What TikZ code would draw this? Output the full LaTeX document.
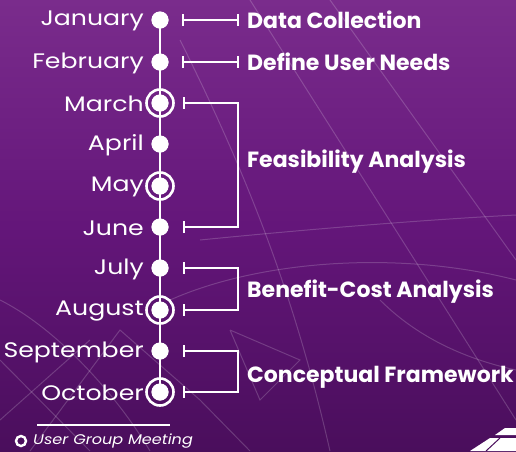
\documentclass[tikz,border=0pt]{standalone}
\usepackage{fontspec}
\setmainfont{Poppins}
\newfontfamily\monthfont[FakeStretch=1.2]{Poppins}
\newfontfamily\legfont[FakeStretch=1.15]{Poppins}
\definecolor{bgtop}{HTML}{7A2C8C}
\definecolor{bgbot}{HTML}{4A0E5C}
\definecolor{bgmid}{HTML}{64167A}
\tikzset{
  month/.style={anchor=east, text=white, font=\monthfont\fontsize{21}{22}\selectfont, inner sep=0pt},
  task/.style={anchor=west, text=white, font=\fontsize{22}{23}\selectfont\bfseries, inner sep=0pt},
  dot/.style={circle, fill=white, minimum size=17pt, inner sep=0pt},
  ring/.style={draw=white, line width=2.6pt, circle, minimum size=27pt, inner sep=0pt},
  link/.style={draw=white, line width=2.6pt},
  deco/.style={draw=white, opacity=0.18, line width=1pt},
}
\begin{document}
\begin{tikzpicture}[x=1pt,y=-1pt]
\useasboundingbox (0,0) rectangle (516,451);
\shade[top color=bgtop, bottom color=bgbot, middle color=bgmid] (0,0) rectangle (516,451);
% decorative background lines
\draw[deco] (330,0) -- (516,260);
\draw[deco] (250,0) -- (516,420);
\draw[deco] (180,40) .. controls (260,200) and (300,320) .. (330,451);
\draw[deco] (0,300) .. controls (60,330) and (120,400) .. (150,451);
\draw[deco] (0,360) -- (90,451);
\draw[deco] (30,451) -- (120,330) -- (200,400) -- (250,451);
\draw[deco] (90,340) -- (0,420);
\draw[deco] (170,300) .. controls (260,260) and (400,250) .. (516,280);
\draw[deco] (200,240) .. controls (300,230) and (420,220) .. (516,215);
\draw[deco] (230,330) -- (300,360) -- (260,400) -- (230,330);
\draw[deco] (380,300) .. controls (420,340) and (470,360) .. (516,370);
% timeline
\foreach \n/\y in {1/20,2/62,3/103,4/144,5/186,6/227,7/268,8/310,9/351,10/392}
  \node[dot] (d\n) at (160,\y) {};
\foreach \n in {3,5,8,10} \node[ring] (r\n) at (d\n) {};
\draw[link] (d1.center) -- (d10.center);
\foreach \n/\y in {1/20,2/62,3/103,4/144,5/186,6/227,7/268,8/310,9/351,10/392}
  \node[dot] at (160,\y) {};
% months
\node[month] (m1) at (144,21) {January};
\node[month] (m2) at (144,63) {February};
\node[month] (m3) at (144,104) {March};
\node[month] (m4) at (144,145) {April};
\node[month] (m5) at (144,187) {May};
\node[month] (m6) at (144,228) {June};
\node[month] (m7) at (144,269) {July};
\node[month] (m8) at (144,311) {August};
\node[month] (m9) at (144,352) {September};
\node[month] (m10) at (144,393) {October};
% brackets
\coordinate (a1) at (183,20); \coordinate (b1) at (238,20);
\coordinate (a2) at (183,62); \coordinate (b2) at (238,62);
\draw[link] (a1) -- (b1); \draw[link] (a1)++(0,-6) -- ++(0,12); \draw[link] (b1)++(0,-6) -- ++(0,12);
\draw[link] (a2) -- (b2); \draw[link] (a2)++(0,-6) -- ++(0,12); \draw[link] (b2)++(0,-6) -- ++(0,12);
\node[task] (t1) at (247,20) {Data Collection};
\node[task] (t2) at (247,62) {Define User Needs};
\foreach \ya/\yb/\name in {103/227/f,268/310/b,351/392/c}{
  \coordinate (\name a) at (184,\ya); \coordinate (\name b) at (184,\yb);
  \draw[link, line cap=rect] (\name a) -| (238,{(\ya+\yb)/2}) |- (\name b);
  \draw[link] (\name a)++(0,-6) -- ++(0,12);
  \draw[link] (\name b)++(0,-6) -- ++(0,12);
}
\node[task] (t3) at (247,162) {Feasibility Analysis};
\node[task] (t4) at (247,292) {Benefit-Cost Analysis};
\node[task] (t5) at (247,377) {Conceptual Framework};
% legend
\draw[white, line width=1.2pt] (37,425) -- (170,425);
\node[draw=white, line width=2.4pt, circle, minimum size=10pt, inner sep=0pt] (lg) at (21,441) {};
\node[anchor=west, text=white, inner sep=0pt, font=\legfont\fontsize{14}{15}\selectfont\itshape] (lt) at (33,441) {User Group Meeting};
% bottom-right logo fragment
\fill[white] (470,451) -- (490,438) -- (516,438) -- (516,451) -- cycle;
\fill[white] (495,435) -- (505,428) -- (516,428) -- (516,435) -- cycle;
\draw[bgbot, line width=1pt] (500,438) -- (486,451);
\end{tikzpicture}
\end{document}
